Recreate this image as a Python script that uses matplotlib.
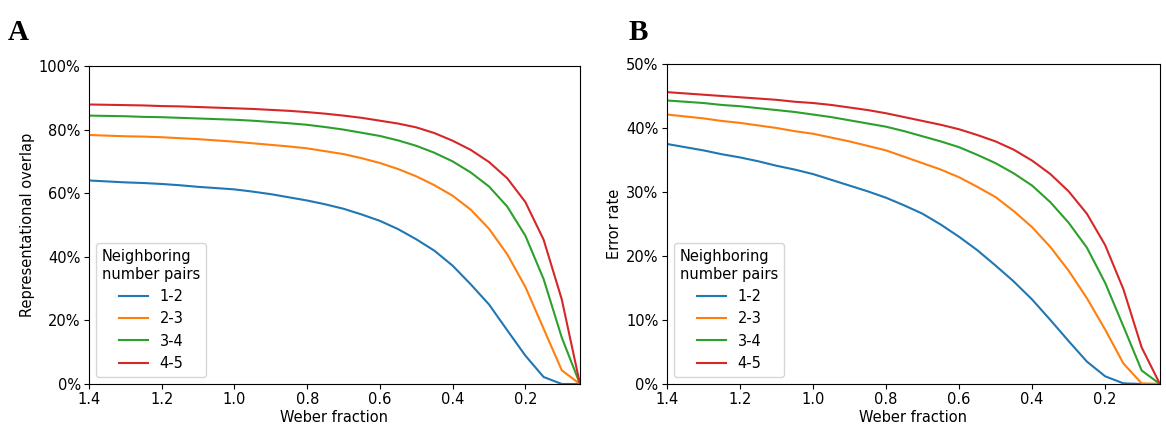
import numpy as np
import matplotlib
matplotlib.use("Agg")
import matplotlib.pyplot as plt
from matplotlib.ticker import PercentFormatter

# Weber fraction samples (x axis runs from 1.4 down to 0.05)
weber = [1.40, 1.35, 1.30, 1.25, 1.20, 1.15, 1.10, 1.05, 1.00, 0.95, 0.90, 0.85, 0.80, 0.75,
         0.70, 0.65, 0.60, 0.55, 0.50, 0.45, 0.40, 0.35, 0.30, 0.25, 0.20, 0.15, 0.10, 0.05]

pair_labels = ['1-2', '2-3', '3-4', '4-5']

# panel A: representational overlap (%)
overlap_12 = [64.0, 63.7, 63.4, 63.2, 62.9, 62.5, 62.0, 61.6, 61.2, 60.5, 59.7, 58.7, 57.7, 56.5,
              55.1, 53.3, 51.3, 48.7, 45.5, 41.9, 37.2, 31.3, 25.0, 16.9, 8.9, 2.2, 0.0, 0.0]
overlap_23 = [78.3, 78.1, 77.9, 77.8, 77.6, 77.3, 77.0, 76.6, 76.2, 75.7, 75.2, 74.7, 74.1, 73.2,
              72.3, 71.0, 69.5, 67.6, 65.3, 62.5, 59.2, 54.8, 48.8, 40.8, 30.5, 17.4, 4.3, 0.0]
overlap_34 = [84.4, 84.3, 84.2, 84.0, 83.9, 83.7, 83.5, 83.3, 83.1, 82.8, 82.4, 82.0, 81.5, 80.8,
              80.0, 79.0, 78.0, 76.6, 74.9, 72.7, 70.0, 66.5, 62.1, 55.8, 46.6, 33.0, 14.6, 0.0]
overlap_45 = [87.9, 87.8, 87.7, 87.6, 87.4, 87.3, 87.1, 86.9, 86.7, 86.5, 86.2, 85.9, 85.5, 85.0,
              84.4, 83.7, 82.8, 81.9, 80.7, 78.9, 76.5, 73.6, 69.8, 64.7, 57.2, 45.4, 26.6, 0.0]

# panel B: error rate (%)
error_12 = [37.5, 37.0, 36.5, 35.9, 35.4, 34.8, 34.1, 33.5, 32.8, 31.9, 31.0, 30.1, 29.1, 27.9,
            26.6, 24.9, 23.0, 20.9, 18.5, 16.0, 13.2, 10.0, 6.7, 3.5, 1.2, 0.1, 0.0, 0.0]
error_23 = [42.1, 41.8, 41.5, 41.1, 40.8, 40.4, 40.0, 39.5, 39.1, 38.5, 37.9, 37.2, 36.5, 35.5,
            34.5, 33.5, 32.3, 30.8, 29.2, 27.0, 24.5, 21.4, 17.7, 13.4, 8.5, 3.2, 0.1, 0.0]
error_34 = [44.3, 44.1, 43.9, 43.6, 43.4, 43.1, 42.8, 42.5, 42.1, 41.7, 41.2, 40.7, 40.2, 39.5,
            38.7, 37.9, 37.0, 35.8, 34.5, 32.9, 31.0, 28.4, 25.2, 21.3, 15.8, 9.0, 2.1, 0.0]
error_45 = [45.6, 45.4, 45.2, 45.0, 44.8, 44.6, 44.4, 44.1, 43.9, 43.6, 43.2, 42.8, 42.3, 41.7,
            41.1, 40.5, 39.8, 38.9, 37.9, 36.6, 34.9, 32.8, 30.1, 26.6, 21.7, 14.8, 5.7, 0.0]

colors = ['#1f77b4', '#ff7f0e', '#2ca02c', '#d62728']

plt.rcParams['font.family'] = 'DejaVu Sans'
plt.rcParams['font.size'] = 10.5

fig = plt.figure(figsize=(11.66, 4.3), dpi=100)
axA = fig.add_axes([0.0763, 0.107, 0.4211, 0.7395])
axB = fig.add_axes([0.5720, 0.107, 0.4228, 0.7442])

panels = [
    (axA, [overlap_12, overlap_23, overlap_34, overlap_45], 100, 'Representational overlap', 'A', 0.007),
    (axB, [error_12, error_23, error_34, error_45], 50, 'Error rate', 'B', 0.539),
]

for ax, series, ymax, ylabel, letter, lx in panels:
    for vals, lab, c in zip(series, pair_labels, colors):
        ax.plot(weber, vals, color=c, lw=1.5, label=lab)
    ax.set_xlim(1.4, 0.05)
    ax.set_ylim(0, ymax)
    ax.set_xticks([1.4, 1.2, 1.0, 0.8, 0.6, 0.4, 0.2])
    ax.set_xticklabels(['1.4', '1.2', '1.0', '0.8', '0.6', '0.4', '0.2'])
    ax.yaxis.set_major_formatter(PercentFormatter(decimals=0))
    ax.tick_params(pad=2.5)
    ax.set_xlabel('Weber fraction', labelpad=2)
    ax.set_ylabel(ylabel, labelpad=3)
    ax.legend(title='Neighboring\nnumber pairs', loc='lower left', title_fontsize=10.5,
              handlelength=2.0, borderpad=0.4)
    fig.text(lx, 0.955, letter, family='Liberation Serif', fontweight='bold',
             fontsize=21, va='top', ha='left')

fig.savefig('out.png', dpi=100)
